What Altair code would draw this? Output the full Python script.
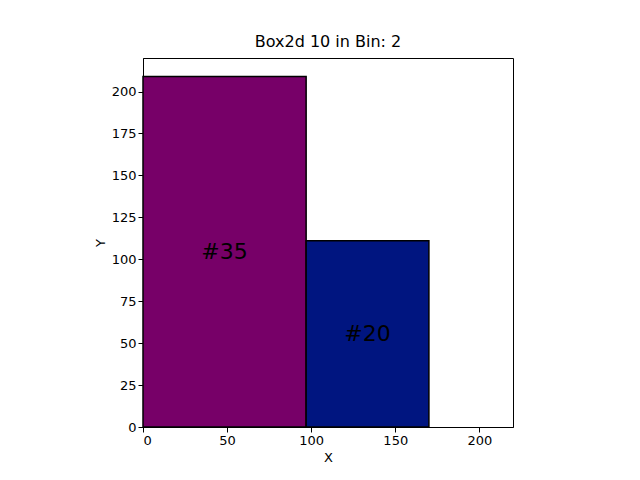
import altair as alt
import pandas as pd

ids = ["#35", "#20"]
x0 = [0, 97]
x1 = [97, 170]
y0 = [0, 0]
y1 = [209, 111]
colors = ["#770068", "#001580"]

df = pd.DataFrame({"id": ids, "x0": x0, "x1": x1, "y0": y0, "y1": y1, "c": colors})
df["xc"] = (df.x0 + df.x1) / 2
df["yc"] = (df.y0 + df.y1) / 2

font = "DejaVu Sans"
xs = alt.Scale(domain=[0, 220], nice=False)
ys = alt.Scale(domain=[0, 220], nice=False)
axis_common = dict(grid=False, domainColor="black", tickColor="black", labelColor="black",
                   labelFontSize=13, titleFontSize=13, titleColor="black", titleFontWeight="normal",
                   labelFont=font, titleFont=font, tickSize=5)

rects = alt.Chart(df).mark_rect(stroke="black", strokeWidth=1.5).encode(
    x=alt.X("x0:Q", scale=xs, title="X", axis=alt.Axis(values=[0, 50, 100, 150, 200], **axis_common)),
    x2="x1",
    y=alt.Y("y0:Q", scale=ys, title="Y", axis=alt.Axis(values=[0, 25, 50, 75, 100, 125, 150, 175, 200], **axis_common)),
    y2="y1",
    color=alt.Color("c:N", scale=None),
)

labels = alt.Chart(df).mark_text(fontSize=22, font=font, color="black").encode(
    x=alt.X("xc:Q", scale=xs),
    y=alt.Y("yc:Q", scale=ys),
    text="id:N",
)

chart = (rects + labels).properties(
    width=370, height=369,
    title=alt.TitleParams("Box2d 10 in Bin: 2", fontSize=16, font=font, fontWeight="normal", color="black", offset=8),
    autosize=alt.AutoSizeParams(type="none"),
    padding={"left": 135, "top": 50, "right": 30, "bottom": 50},
).configure_view(stroke="black", strokeWidth=1)

chart.save("out.html", embed_options={"renderer": "svg", "actions": False})
